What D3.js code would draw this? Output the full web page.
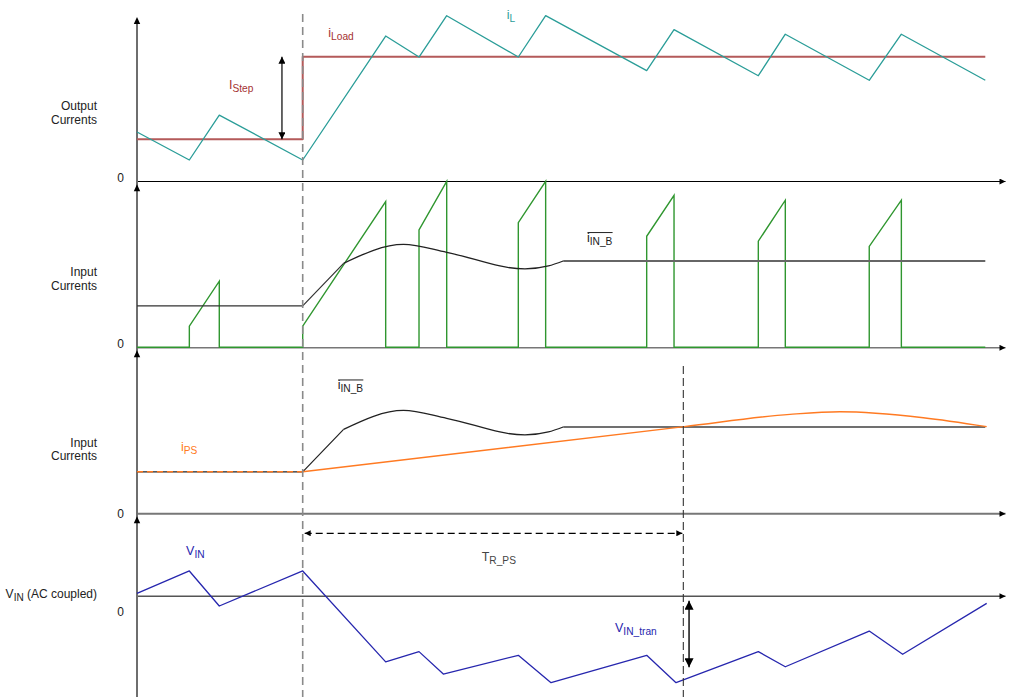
<!DOCTYPE html>
<html><head><meta charset="utf-8">
<script src="https://cdn.jsdelivr.net/npm/d3@7"></script>
<style>
body{margin:0;background:#fff;}
svg{display:block;font-family:"Liberation Sans",Arial,sans-serif;}
</style></head><body>
<svg id="c" width="1025" height="697"></svg>
<script>
// ---------------- data (time in % of the window, values in arbitrary units) ----------------
const stepTime = 19.09;
const settleTime = 62.94;

const iLTime  = [0, 6.03, 9.48, 19.09, 28.65, 32.49, 35.68, 43.93, 47.08, 58.72, 61.87, 71.58, 74.69, 84.36, 88.06, 97.73];
const iLValue = [2.99, 1.28, 4.02, 1.28, 8.84, 7.56, 10.08, 7.56, 10.08, 6.73, 9.23, 6.42, 8.95, 6.14, 8.95, 6.14];

const iLoadTime  = [0, 19.09, 19.09, 97.73];
const iLoadValue = [2.54, 2.54, 7.58, 7.58];

const pulseOn    = [6.03, 19.09, 32.49, 43.93, 58.72, 71.58, 84.36];
const pulseOff   = [9.48, 28.65, 35.68, 47.08, 61.87, 74.69, 88.06];
const pulseStart = [1.27, 1.27, 7.07, 7.51, 6.69, 6.39, 6.08];
const pulsePeak  = [3.98, 8.78, 10.0, 10.0, 9.16, 8.86, 8.86];
const pulseEnd   = 97.73;

const inbRampTime  = [0, 19.09, 23.8];
const inbRampValue = [2.5, 2.5, 5.06];
const inbWaveTime  = [23.8, 30.7, 35.68, 44.7, 47.4, 49.1];
const inbWaveValue = [5.06, 6.2, 5.72, 4.72, 4.9, 5.2];
const inbFlatTime  = [49.1, 97.73];
const inbFlatValue = [5.2, 5.2];

const psHoldTime  = [0, 19.09];
const psHoldValue = [2.5, 2.5];
const psRiseTime  = [19.09, 63.05, 75.23, 80.99, 90.59, 97.89];
const psRiseValue = [2.5, 5.22, 5.96, 6.12, 5.76, 5.22];

const vinTime  = [0, 6.03, 9.48, 19.09, 28.65, 32.49, 35.29, 43.93, 47.7, 58.72, 62.1, 71.58, 74.69, 84.36, 88.21, 97.89];
const vinValue = [0.14, 1.49, -0.62, 1.49, -3.99, -3.37, -4.72, -3.59, -5.24, -3.59, -5.24, -3.37, -4.28, -2.13, -3.53, -0.46];

const stepArrowTime = 16.7;
const tranArrowTime = 63.6;
const tranArrowValue = [-0.3, -4.31];
const trpsArrowValue = 3.76;
const zeroTick = [0];
const panelLabels = [["Output", "Currents"], ["Input", "Currents"], ["Input", "Currents"]];

// ---------------- drawing ----------------
const svg = d3.select("#c");
const x  = d3.scaleLinear().domain([0, 100]).range([137, 1005]);
const y1 = d3.scaleLinear().domain([0, 10]).range([181, 17]);
const y2 = d3.scaleLinear().domain([0, 10]).range([347.3, 181.3]);
const y3 = d3.scaleLinear().domain([0, 10]).range([513.3, 347.3]);
const y4 = d3.scaleLinear().domain([-6, 4.5]).range([695.3, 521]);

const C = {teal: "#2a9d98", red: "#b45a5a", redText: "#a53232", green: "#2f962f",
           blue: "#2626ae", orange: "#ff7a22", grey: "#6e6e6e", text: "#222"};

const defs = svg.append("defs");
function marker(id, w, h, color) {
  defs.append("marker").attr("id", id).attr("viewBox", "0 0 10 10")
    .attr("refX", 10).attr("refY", 5).attr("markerUnits", "userSpaceOnUse")
    .attr("markerWidth", w).attr("markerHeight", h).attr("orient", "auto-start-reverse")
    .append("path").attr("d", "M0,0L10,5L0,10z").attr("fill", color);
}
marker("ax", 8, 6, "#000");
marker("dbl", 8, 7, "#000");
marker("big", 10, 9, "#000");

const zip = (t, v) => t.map((d, i) => [d, v[i]]);
function drawLine(ys, t, v, color, width, curve, dash) {
  const gen = d3.line().x(d => x(d[0])).y(d => ys(d[1])).curve(curve || d3.curveLinear);
  const p = svg.append("path").attr("d", gen(zip(t, v))).attr("fill", "none")
    .attr("stroke", color).attr("stroke-width", width).attr("stroke-linejoin", "round");
  if (dash) p.attr("stroke-dasharray", dash);
  return p;
}

// horizontal axes (d3 axes without ticks)
function hAxis(ys, color, width) {
  const g = svg.append("g").attr("transform", `translate(0,${ys(0)})`)
    .call(d3.axisBottom(x).tickValues([]).tickSizeOuter(0));
  g.select(".domain").attr("stroke", color).attr("stroke-width", width).attr("marker-end", "url(#ax)");
}
hAxis(y4, "#555", 1.4);
hAxis(y3, "#777", 2);
hAxis(y2, "#777", 1.6);
hAxis(y1, "#000", 1.2);

// vertical axis with arrowheads at each panel top
svg.append("line").attr("x1", x(0)).attr("x2", x(0)).attr("y1", 697).attr("y2", y1(10) + 2)
  .attr("stroke", C.grey).attr("stroke-width", 2);
[y1(10), y2(10) + 3, y3(10) + 3, y3(0) + 3].forEach(yy => {
  svg.append("path").attr("d", `M${x(0)},${yy}l-3.2,7h6.4z`).attr("fill", "#000");
});

// zero labels via axisLeft
function zeroLabel(ys, dy) {
  const g = svg.append("g").attr("transform", `translate(${x(0) - 13},0)`)
    .call(d3.axisLeft(ys).tickValues(zeroTick).tickSize(0).tickPadding(0));
  g.select(".domain").remove();
  g.selectAll("text").attr("font-size", 12).attr("font-family", "Liberation Sans, Arial, sans-serif")
    .attr("fill", C.text).attr("dy", dy);
}
zeroLabel(y1, "0.0em");
zeroLabel(y2, "0.0em");
zeroLabel(y3, "0.32em");
zeroLabel(y4, "1.65em");

// panel labels
const labelY = [[110, 124], [276, 290], [446.5, 460]];
panelLabels.forEach((lines, i) => {
  lines.forEach((s, j) => {
    svg.append("text").attr("x", 97).attr("y", labelY[i][j]).attr("text-anchor", "end")
      .attr("font-size", 12).attr("fill", C.text).text(s);
  });
});
{
  const t = svg.append("text").attr("x", 97).attr("y", 598).attr("text-anchor", "end")
    .attr("font-size", 12).attr("fill", C.text);
  t.append("tspan").text("V");
  t.append("tspan").attr("font-size", 10).attr("dy", 3).text("IN");
  t.append("tspan").attr("dy", -3).text(" (AC coupled)");
}

// ----- panel 1 -----
drawLine(y1, iLoadTime, iLoadValue, C.red, 2);
drawLine(y1, iLTime, iLValue, C.teal, 1.3);
svg.append("line").attr("x1", x(stepArrowTime)).attr("x2", x(stepArrowTime))
  .attr("y1", y1(iLoadValue[0])).attr("y2", y1(iLoadValue[2]))
  .attr("stroke", "#000").attr("stroke-width", 1.2)
  .attr("marker-start", "url(#dbl)").attr("marker-end", "url(#dbl)");

// ----- panel 2 -----
const pulsePts = [[0, 0]];
pulseOn.forEach((on, i) => {
  pulsePts.push([on, 0], [on, pulseStart[i]], [pulseOff[i], pulsePeak[i]], [pulseOff[i], 0]);
});
pulsePts.push([pulseEnd, 0]);
drawLine(y2, pulsePts.map(d => d[0]), pulsePts.map(d => d[1]), C.green, 1.4).attr("stroke-linejoin", "miter");
drawLine(y2, inbRampTime, inbRampValue, "#333", 1.2);
drawLine(y2, inbWaveTime, inbWaveValue, "#222", 1.3, d3.curveMonotoneX);
drawLine(y2, inbFlatTime, inbFlatValue, "#666", 1.8);

// ----- panel 3 -----
drawLine(y3, inbRampTime, inbRampValue, "#222", 1.2);
drawLine(y3, inbWaveTime, inbWaveValue, "#222", 1.3, d3.curveMonotoneX);
drawLine(y3, inbFlatTime, inbFlatValue, "#707070", 2);
drawLine(y3, psHoldTime, psHoldValue, C.orange, 1.4, null, "6,4");
drawLine(y3, psRiseTime, psRiseValue, C.orange, 1.4, d3.curveMonotoneX);

// ----- panel 4 -----
drawLine(y4, vinTime, vinValue, C.blue, 1.3);
svg.append("line").attr("x1", x(stepTime) + 2).attr("x2", x(settleTime) - 1)
  .attr("y1", y4(trpsArrowValue)).attr("y2", y4(trpsArrowValue))
  .attr("stroke", "#000").attr("stroke-width", 1.2).attr("stroke-dasharray", "7,4")
  .attr("marker-start", "url(#ax)").attr("marker-end", "url(#ax)");
svg.append("line").attr("x1", x(tranArrowTime)).attr("x2", x(tranArrowTime))
  .attr("y1", y4(tranArrowValue[0])).attr("y2", y4(tranArrowValue[1]))
  .attr("stroke", "#000").attr("stroke-width", 1.4)
  .attr("marker-start", "url(#big)").attr("marker-end", "url(#big)");

// dashed time markers
svg.append("line").attr("x1", x(stepTime)).attr("x2", x(stepTime)).attr("y1", 14).attr("y2", 697)
  .attr("stroke", "#8a8a8a").attr("stroke-width", 1.6).attr("stroke-dasharray", "8,5");
svg.append("line").attr("x1", x(settleTime)).attr("x2", x(settleTime)).attr("y1", 366).attr("y2", 697)
  .attr("stroke", "#333").attr("stroke-width", 1.1).attr("stroke-dasharray", "8,4");

// ----- annotation labels -----
function label(t, ys, v, main, sub, color, overline) {
  const el = svg.append("text").attr("x", x(t)).attr("y", ys(v)).attr("font-size", 12.5).attr("fill", color);
  el.append("tspan").text(main);
  el.append("tspan").attr("font-size", 10.2).attr("dy", 3).text(sub);
  if (overline) {
    const b = el.node().getBBox();
    svg.append("line").attr("x1", b.x + 0.5).attr("x2", b.x + b.width)
      .attr("y1", b.y + 2).attr("y2", b.y + 2).attr("stroke", color).attr("stroke-width", 1);
  }
}
label(10.6, y1, 5.61, "I", "Step", C.redText);
label(22.04, y1, 8.78, "i", "Load", C.redText);
label(42.59, y1, 9.88, "i", "L", C.teal);
label(51.84, y2, 6.37, "i", "IN_B", "#222", true);
label(23.12, y3, 7.49, "i", "IN_B", "#222", true);
label(5.07, y3, 3.73, "i", "PS", C.orange);
label(39.71, y4, 2.09, "T", "R_PS", "#444");
label(5.65, y4, 2.45, "V", "IN", C.blue);
label(55.07, y4, -2.19, "V", "IN_tran", C.blue);
</script>
</body></html>
